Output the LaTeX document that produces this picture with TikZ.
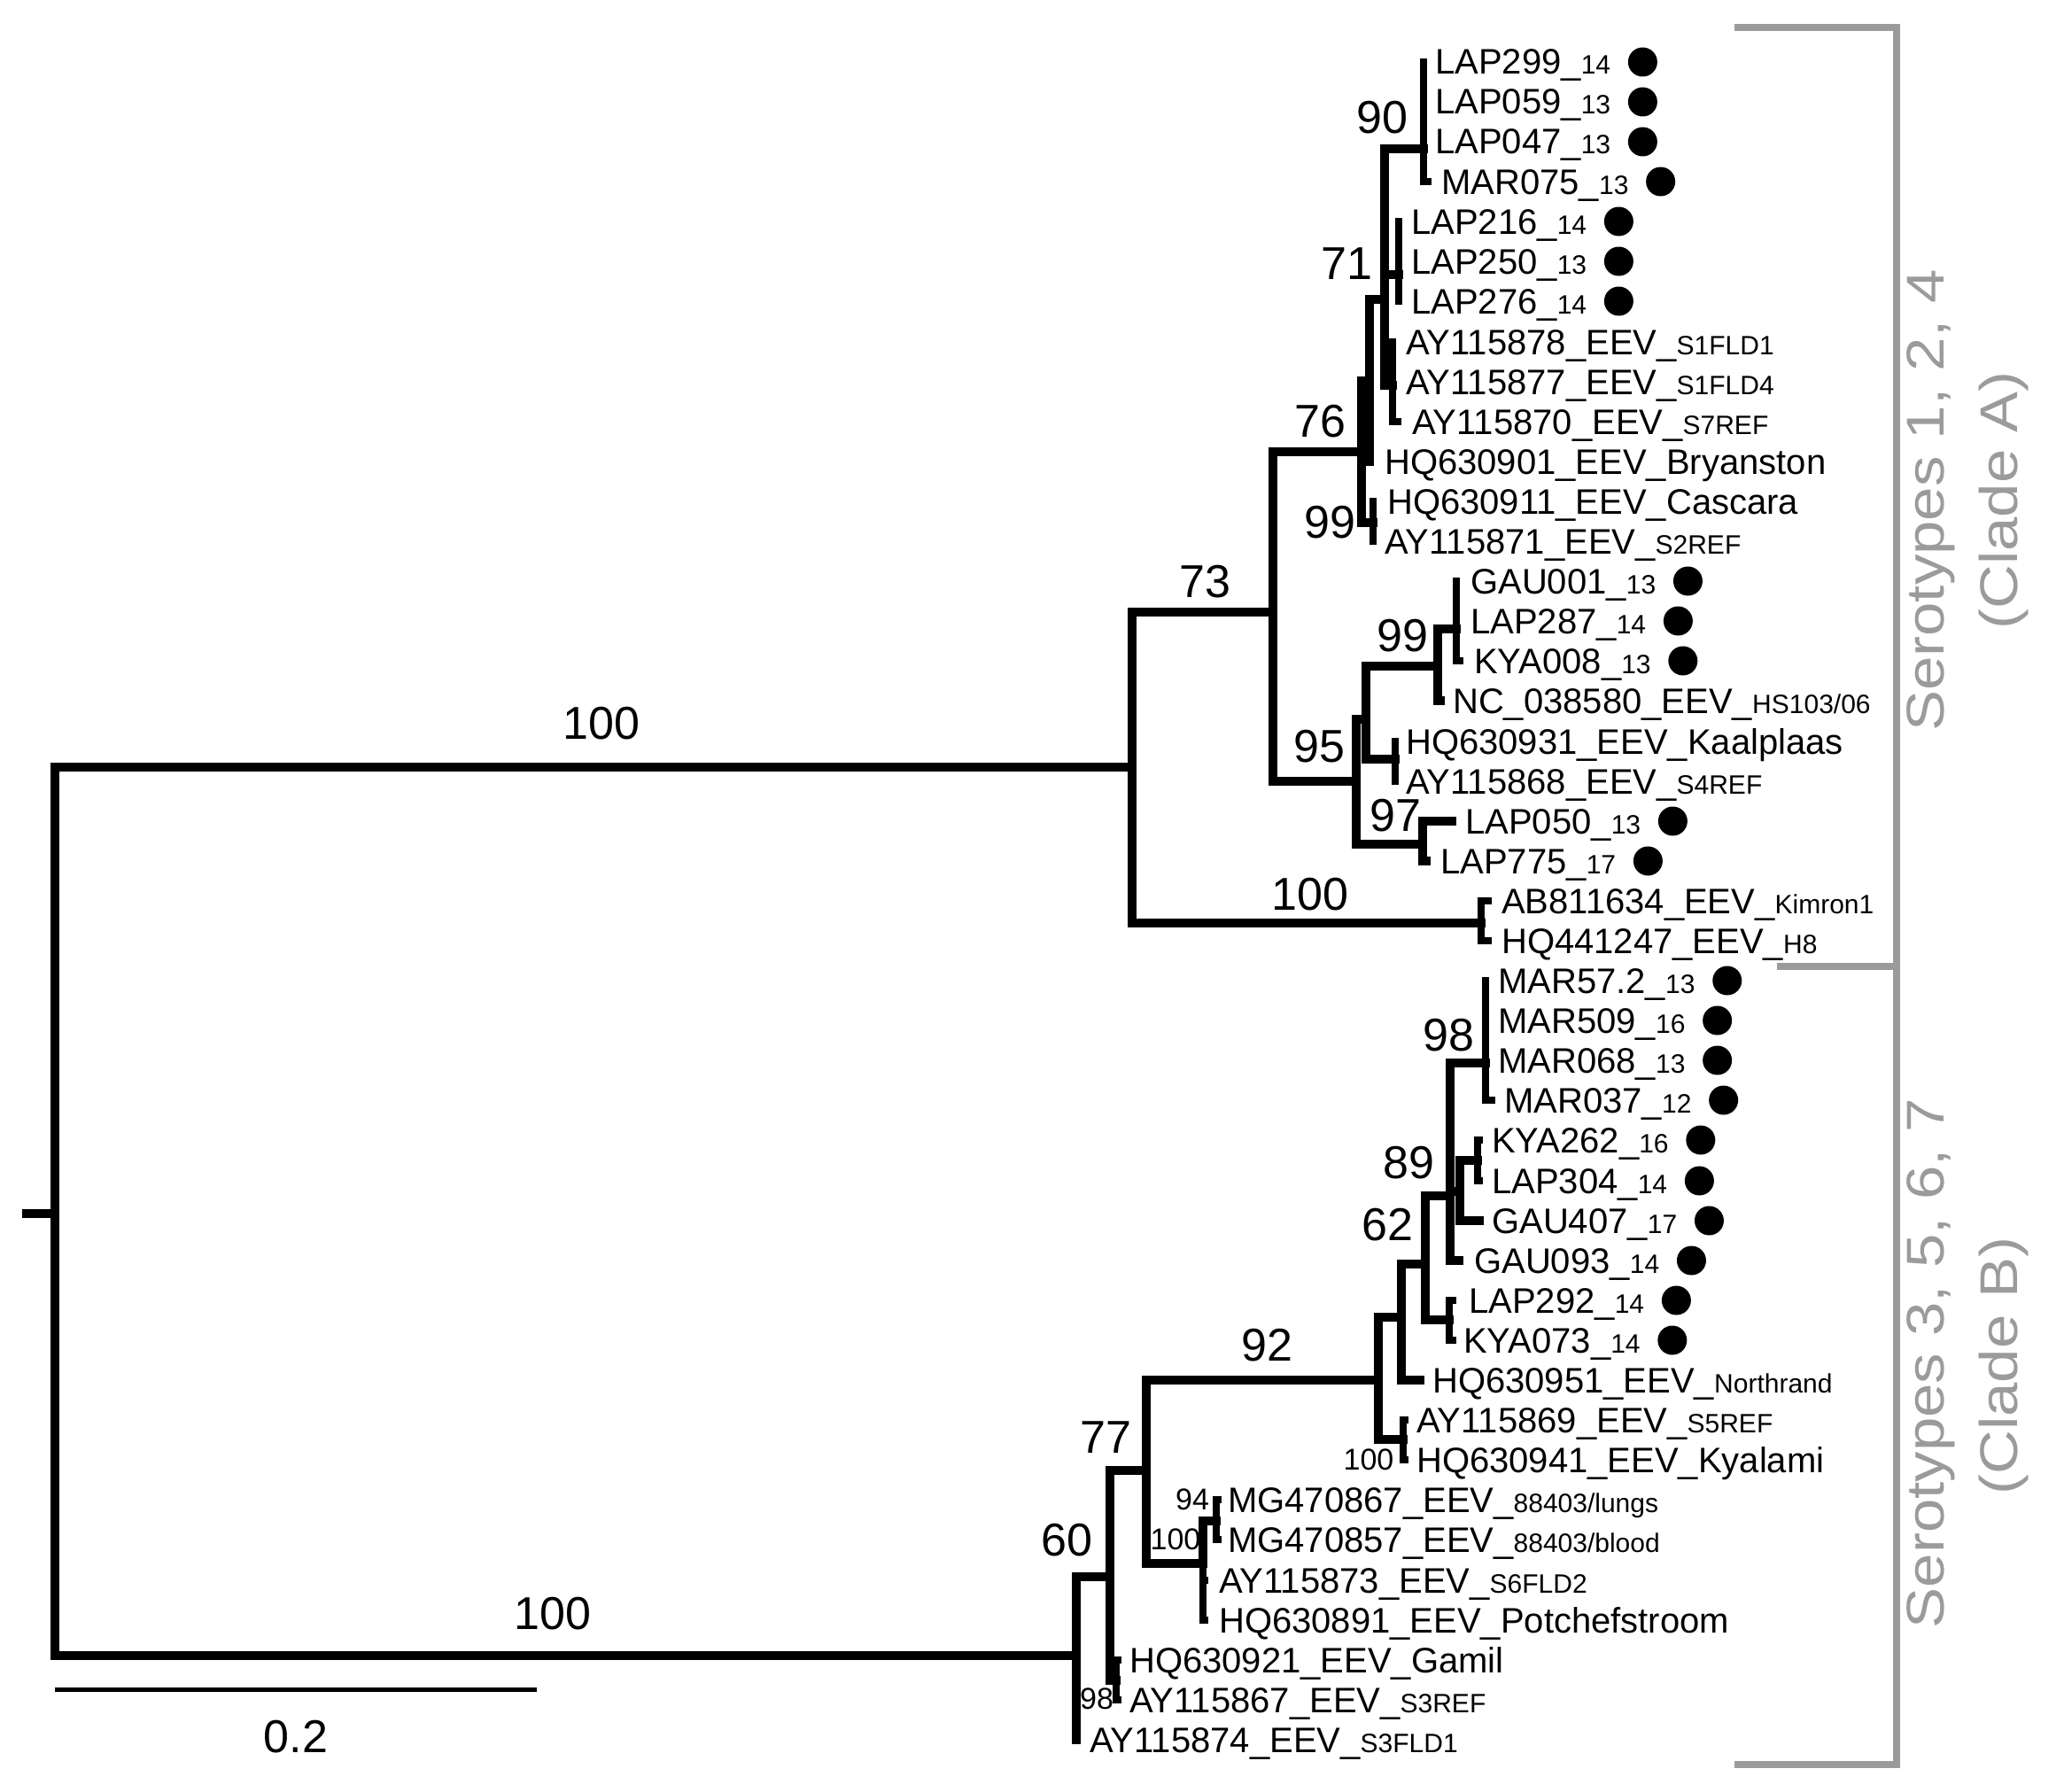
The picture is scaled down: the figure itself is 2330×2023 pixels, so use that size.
\documentclass[tikz,border=0pt]{standalone}
\usepackage{fontspec}
\setmainfont{Liberation Sans}
\usepackage{graphicx}
\newcommand\sfx[1]{{\fontsize{30}{36}\selectfont #1}}
\definecolor{sgray}{RGB}{155,155,155}
\begin{document}
\begin{tikzpicture}[x=1pt,y=-1pt,
 br/.style={line width=10pt, line cap=rect, line join=miter},
 tb/.style={line width=8pt, line cap=rect, line join=miter},
 leaf/.style={anchor=base west, yshift=-14pt, inner sep=0pt, font=\fontsize{40}{48}\selectfont},
 boot/.style={inner sep=0pt, font=\fontsize{52}{60}\selectfont},
 bsmall/.style={inner sep=0pt, font=\fontsize{34}{40}\selectfont},
 dotnode/.style={circle, fill=black, inner sep=0pt, minimum size=33pt},
 brk/.style={line width=8pt, draw=sgray, line join=miter},
 clade/.style={rotate=90, text=sgray, inner sep=0pt, font=\fontsize{60}{72}\selectfont}]
\useasboundingbox (0,0) rectangle (2330,2023);

% ---------- internal nodes ----------
\coordinate (R0) at (30,1370);
\coordinate (R) at (62,1370);
\coordinate (A) at (1278,866);
\coordinate (B) at (1215,1869);
% clade A
\coordinate (N73) at (1437,691);
\coordinate (NK) at (1672,1042);
\coordinate (N76) at (1537,510);
\coordinate (N95) at (1531,882);
\coordinate (N2) at (1546,430);
\coordinate (C99a) at (1550,590);
\coordinate (Na) at (1563,338);
\coordinate (C90) at (1607,168);
\coordinate (C71) at (1579,310);
\coordinate (S1) at (1572,435);
\coordinate (X) at (1542,812);
\coordinate (N97) at (1606,953);
\coordinate (N99a) at (1623,752);
\coordinate (NKaal) at (1575,857);
\coordinate (N99b) at (1644,710);
% clade B
\coordinate (N60) at (1253,1780);
\coordinate (N77) at (1294,1660);
\coordinate (N98s) at (1260,1897);
\coordinate (N92) at (1556,1558);
\coordinate (NMG) at (1358,1765);
\coordinate (N94) at (1373,1717);
\coordinate (Nx) at (1582,1487);
\coordinate (NKy) at (1584,1625);
\coordinate (N62) at (1609,1427);
\coordinate (N89) at (1637,1350);
\coordinate (Nlk) at (1636,1490);
\coordinate (C98) at (1677,1200);
\coordinate (N89b) at (1648,1345);
\coordinate (Nkl) at (1668,1310);

% ---------- tips ----------
\coordinate (t0) at (1607,70);
\coordinate (t1) at (1607,115);
\coordinate (t2) at (1607,160);
\coordinate (t3) at (1612,205);
\coordinate (t4) at (1579,250);
\coordinate (t5) at (1579,295);
\coordinate (t6) at (1579,340);
\coordinate (t7) at (1572,386);
\coordinate (t8) at (1572,431);
\coordinate (t9) at (1578,476);
\coordinate (t10) at (1546,521);
\coordinate (t11) at (1550,566);
\coordinate (t12) at (1550,611);
\coordinate (t13) at (1644,656);
\coordinate (t14) at (1644,701);
\coordinate (t15) at (1648,746);
\coordinate (t16) at (1626,791);
\coordinate (t17) at (1575,837);
\coordinate (t18) at (1575,882);
\coordinate (t19) at (1639,927);
\coordinate (t20) at (1610,972);
\coordinate (t21) at (1680,1017);
\coordinate (t22) at (1680,1062);
\coordinate (t23) at (1677,1107);
\coordinate (t24) at (1677,1152);
\coordinate (t25) at (1677,1197);
\coordinate (t26) at (1684,1242);
\coordinate (t27) at (1670,1287);
\coordinate (t28) at (1670,1333);
\coordinate (t29) at (1670,1378);
\coordinate (t30) at (1647,1423);
\coordinate (t31) at (1640,1468);
\coordinate (t32) at (1640,1513);
\coordinate (t33) at (1603,1558);
\coordinate (t34) at (1586,1603);
\coordinate (t35) at (1586,1648);
\coordinate (t36) at (1375,1693);
\coordinate (t37) at (1375,1738);
\coordinate (t38) at (1360,1784);
\coordinate (t39) at (1360,1829);
\coordinate (t40) at (1262,1874);
\coordinate (t41) at (1262,1919);
\coordinate (t42) at (1215,1964);

% ---------- branches ----------
\draw[br] (R0) -- (R);
\draw[br] (R) |- (A);
\draw[br] (R) |- (B);
\draw[br] (A) |- (N73);
\draw[br] (A) |- (NK);
\draw[br] (N73) |- (N76);
\draw[br] (N73) |- (N95);
\draw[br] (N76) |- (N2);
\draw[br] (N76) |- (C99a);
\draw[br] (N2) |- (Na);
\draw[br] (N2) |- (t10);
\draw[br] (Na) |- (C90);
\draw[br] (Na) |- (C71);
\draw[br] (Na) |- (S1);
\draw[tb] (C90) |- (t0);
\draw[tb] (C90) |- (t1);
\draw[tb] (C90) |- (t2);
\draw[tb] (C90) |- (t3);
\draw[tb] (C71) |- (t4);
\draw[tb] (C71) |- (t5);
\draw[tb] (C71) |- (t6);
\draw[tb] (S1) |- (t7);
\draw[tb] (S1) |- (t8);
\draw[tb] (S1) |- (t9);
\draw[tb] (C99a) |- (t11);
\draw[tb] (C99a) |- (t12);
\draw[br] (N95) |- (X);
\draw[br] (N95) |- (N97);
\draw[br] (X) |- (N99a);
\draw[br] (X) |- (NKaal);
\draw[br] (N99a) |- (N99b);
\draw[br] (N99a) |- (t16);
\draw[tb] (N99b) |- (t13);
\draw[tb] (N99b) |- (t14);
\draw[tb] (N99b) |- (t15);
\draw[tb] (NKaal) |- (t17);
\draw[tb] (NKaal) |- (t18);
\draw[br] (N97) |- (t19);
\draw[br] (N97) |- (t20);
\draw[tb] (NK) |- (t21);
\draw[tb] (NK) |- (t22);
% clade B
\draw[br] (B) |- (N60);
\draw[br] (B) |- (t42);
\draw[br] (N60) |- (N77);
\draw[br] (N60) |- (N98s);
\draw[tb] (N98s) |- (t40);
\draw[tb] (N98s) |- (t41);
\draw[br] (N77) |- (N92);
\draw[br] (N77) |- (NMG);
\draw[br] (NMG) |- (N94);
\draw[tb] (NMG) |- (t38);
\draw[tb] (NMG) |- (t39);
\draw[tb] (N94) |- (t36);
\draw[tb] (N94) |- (t37);
\draw[br] (N92) |- (Nx);
\draw[br] (N92) |- (NKy);
\draw[tb] (NKy) |- (t34);
\draw[tb] (NKy) |- (t35);
\draw[br] (Nx) |- (N62);
\draw[br] (Nx) |- (t33);
\draw[br] (N62) |- (N89);
\draw[br] (N62) |- (Nlk);
\draw[tb] (Nlk) |- (t31);
\draw[tb] (Nlk) |- (t32);
\draw[br] (N89) |- (C98);
\draw[br] (N89) |- (N89b);
\draw[br] (N89) |- (t30);
\draw[tb] (C98) |- (t23);
\draw[tb] (C98) |- (t24);
\draw[tb] (C98) |- (t25);
\draw[tb] (C98) |- (t26);
\draw[br] (N89b) |- (Nkl);
\draw[br] (N89b) |- (t29);
\draw[tb] (Nkl) |- (t27);
\draw[tb] (Nkl) |- (t28);

% ---------- leaf labels ----------
\node[leaf] (L0) at (1620,70) {LAP299\_\sfx{14}};
\node[leaf] (L1) at (1620,115) {LAP059\_\sfx{13}};
\node[leaf] (L2) at (1620,160) {LAP047\_\sfx{13}};
\node[leaf] (L3) at (1627,205) {MAR075\_\sfx{13}};
\node[leaf] (L4) at (1593,250) {LAP216\_\sfx{14}};
\node[leaf] (L5) at (1593,295) {LAP250\_\sfx{13}};
\node[leaf] (L6) at (1593,340) {LAP276\_\sfx{14}};
\node[leaf] (L7) at (1587,386) {AY115878\_EEV\_\sfx{S1FLD1}};
\node[leaf] (L8) at (1587,431) {AY115877\_EEV\_\sfx{S1FLD4}};
\node[leaf] (L9) at (1594,476) {AY115870\_EEV\_\sfx{S7REF}};
\node[leaf] (L10) at (1563,521) {HQ630901\_EEV\_Bryanston};
\node[leaf] (L11) at (1566,566) {HQ630911\_EEV\_Cascara};
\node[leaf] (L12) at (1563,611) {AY115871\_EEV\_\sfx{S2REF}};
\node[leaf] (L13) at (1660,656) {GAU001\_\sfx{13}};
\node[leaf] (L14) at (1660,701) {LAP287\_\sfx{14}};
\node[leaf] (L15) at (1664,746) {KYA008\_\sfx{13}};
\node[leaf] (L16) at (1640,791) {NC\_038580\_EEV\_\sfx{HS103/06}};
\node[leaf] (L17) at (1587,837) {HQ630931\_EEV\_Kaalplaas};
\node[leaf] (L18) at (1587,882) {AY115868\_EEV\_\sfx{S4REF}};
\node[leaf] (L19) at (1654,927) {LAP050\_\sfx{13}};
\node[leaf] (L20) at (1626,972) {LAP775\_\sfx{17}};
\node[leaf] (L21) at (1695,1017) {AB811634\_EEV\_\sfx{Kimron1}};
\node[leaf] (L22) at (1695,1062) {HQ441247\_EEV\_\sfx{H8}};
\node[leaf] (L23) at (1691,1107) {MAR57.2\_\sfx{13}};
\node[leaf] (L24) at (1691,1152) {MAR509\_\sfx{16}};
\node[leaf] (L25) at (1691,1197) {MAR068\_\sfx{13}};
\node[leaf] (L26) at (1698,1242) {MAR037\_\sfx{12}};
\node[leaf] (L27) at (1684,1287) {KYA262\_\sfx{16}};
\node[leaf] (L28) at (1684,1333) {LAP304\_\sfx{14}};
\node[leaf] (L29) at (1684,1378) {GAU407\_\sfx{17}};
\node[leaf] (L30) at (1664,1423) {GAU093\_\sfx{14}};
\node[leaf] (L31) at (1658,1468) {LAP292\_\sfx{14}};
\node[leaf] (L32) at (1652,1513) {KYA073\_\sfx{14}};
\node[leaf] (L33) at (1617,1558) {HQ630951\_EEV\_\sfx{Northrand}};
\node[leaf] (L34) at (1599,1603) {AY115869\_EEV\_\sfx{S5REF}};
\node[leaf] (L35) at (1599,1648) {HQ630941\_EEV\_Kyalami};
\node[leaf] (L36) at (1386,1693) {MG470867\_EEV\_\sfx{88403/lungs}};
\node[leaf] (L37) at (1386,1738) {MG470857\_EEV\_\sfx{88403/blood}};
\node[leaf] (L38) at (1376,1784) {AY115873\_EEV\_\sfx{S6FLD2}};
\node[leaf] (L39) at (1376,1829) {HQ630891\_EEV\_Potchefstroom};
\node[leaf] (L40) at (1275,1874) {HQ630921\_EEV\_Gamil};
\node[leaf] (L41) at (1275,1919) {AY115867\_EEV\_\sfx{S3REF}};
\node[leaf] (L42) at (1230,1964) {AY115874\_EEV\_\sfx{S3FLD1}};

% ---------- dots ----------
\foreach \i in {0,1,2,3,4,5,6,13,14,15,19,20,23,24,25,26,27,28,29,30,31,32}{
  \node[dotnode] (d\i) at ([xshift=36pt,yshift=14pt]L\i.base east) {};
}

% ---------- support values ----------
\node[boot] (b1) at (679,817) {100};
\node[boot] (b2) at (624,1822) {100};
\node[boot] (b3) at (1360,657) {73};
\node[boot] (b4) at (1490,476) {76};
\node[boot] (b5) at (1560,133) {90};
\node[boot] (b6) at (1520,298) {71};
\node[boot] (b7) at (1501,590) {99};
\node[boot] (b8) at (1583,718) {99};
\node[boot] (b9) at (1489,843) {95};
\node[boot] (b10) at (1575,921) {97};
\node[boot] (b11) at (1479,1010) {100};
\node[boot] (b12) at (1635,1169) {98};
\node[boot] (b13) at (1590,1313) {89};
\node[boot] (b14) at (1566,1383) {62};
\node[boot] (b15) at (1430,1519) {92};
\node[boot] (b16) at (1248,1623) {77};
\node[boot] (b17) at (1204,1739) {60};
\node[bsmall] (b18) at (1545,1648) {100};
\node[bsmall] (b19) at (1346,1693) {94};
\node[bsmall] (b20) at (1327,1738) {100};
\node[bsmall] (b21) at (1238,1918) {98};

% ---------- scale bar ----------
\coordinate (sb1) at (62,1907);
\coordinate (sb2) at (606,1907);
\draw[line width=5pt] (sb1) -- (sb2);
\node[boot] (sbl) at (334,1961) {0.2};

% ---------- clade brackets ----------
\coordinate (bt1) at (1958,31);
\coordinate (bt2) at (2141,31);
\coordinate (bb1) at (1958,1992);
\coordinate (bb2) at (2141,1992);
\coordinate (bm1) at (2006,1091);
\coordinate (bm2) at (2141,1091);
\draw[brk] (bt1) -- (bt2) -- (bb2) -- (bb1);
\draw[brk] (bm1) -- (bm2);
\node[clade] (sa) at (2180,565) {\scalebox{1.15}[1]{Serotypes 1, 2, 4}};
\node[clade] (ca) at (2262,565) {\scalebox{1.15}[1]{(Clade A)}};
\node[clade] (sb) at (2180,1539) {\scalebox{1.15}[1]{Serotypes 3, 5, 6, 7}};
\node[clade] (cb) at (2262,1542) {\scalebox{1.15}[1]{(Clade B)}};
\end{tikzpicture}
\end{document}
